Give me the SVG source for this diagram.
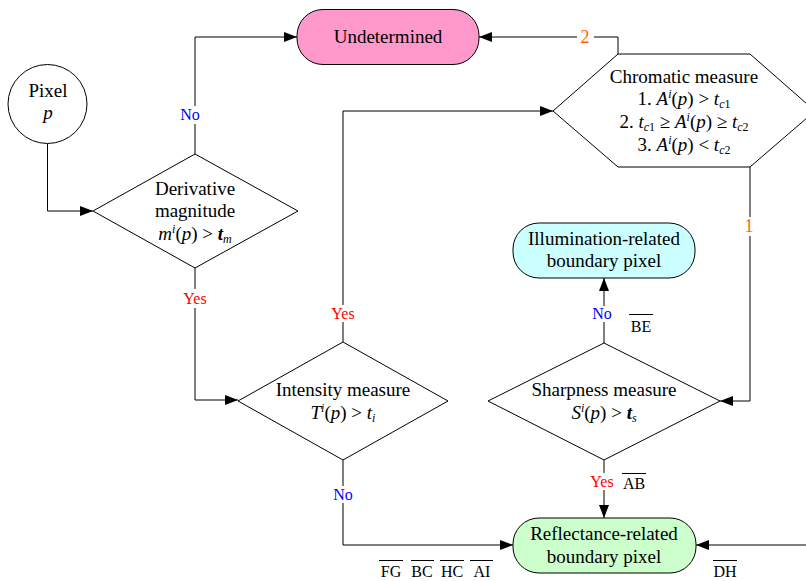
<svg xmlns="http://www.w3.org/2000/svg" width="806" height="581" viewBox="0 0 806 581">
<defs>
<marker id="arr" markerUnits="userSpaceOnUse" markerWidth="14" markerHeight="10" refX="13" refY="5" orient="auto">
<path d="M0,0 L13,5 L0,10 Z" fill="#000"/>
</marker>
<style>
text{font-family:"Liberation Serif","Times New Roman",serif;fill:#000}
.t{font-size:19px;text-anchor:middle}
.i{font-style:italic}
.s{font-size:12px}
.lbl{font-size:16px;text-anchor:middle}
.yes{fill:#FF0000}
.no{fill:#0000FF}
.num{font-size:18px;text-anchor:middle;fill:#FF6600}
.shape{stroke:#000;stroke-width:1}
.conn path{fill:none;stroke:#000;stroke-width:1}
.ol{stroke:#000;stroke-width:1}
</style>
</defs>
<rect width="806" height="581" fill="#fff"/>

<g class="conn" id="connectors">
<path d="M47.5,143.5 V211 H93" marker-end="url(#arr)"/>
<path d="M195,154 V124"/>
<path d="M195,106 V37 H297" marker-end="url(#arr)"/>
<path d="M195,268 V289"/>
<path d="M195,308 V400 H238" marker-end="url(#arr)"/>
<path d="M343,342 V322"/>
<path d="M343,305 V111 H553" marker-end="url(#arr)"/>
<path d="M343,460 V486"/>
<path d="M343,503 V545 H513" marker-end="url(#arr)"/>
<path d="M618,54 V37 H594"/>
<path d="M577,37 H479" marker-end="url(#arr)"/>
<path d="M750,167 V217"/>
<path d="M750,236 V401 H720" marker-end="url(#arr)"/>
<path d="M604,343 V322"/>
<path d="M604,306 V278" marker-end="url(#arr)"/>
<path d="M604,460 V473"/>
<path d="M604,490 V518" marker-end="url(#arr)"/>
<path d="M806,545 H696" marker-end="url(#arr)"/>
</g>

<g id="pixel">
<circle class="shape" cx="47.5" cy="104" r="39.5" fill="#fff"/>
<text class="t" x="48" y="97">Pixel</text>
<text class="t i" x="48" y="119">p</text>
</g>

<g id="undetermined">
<rect class="shape" x="297" y="9.5" width="182" height="55" rx="26" fill="#FF99CC"/>
<text class="t" x="388" y="43">Undetermined</text>
</g>

<g id="derivative">
<polygon class="shape" points="93,211 195,154 298,211 195,268" fill="#fff"/>
<text class="t" x="195" y="195">Derivative</text>
<text class="t" x="195" y="217">magnitude</text>
<text class="t" x="195" y="240"><tspan class="i">m</tspan><tspan class="s i" dy="-7">i</tspan><tspan dy="7">(</tspan><tspan class="i">p</tspan>) &gt; <tspan class="i" font-weight="bold">t</tspan><tspan class="s i" dy="3">m</tspan></text>
</g>

<g id="chromatic">
<polygon class="shape" points="553,111 618,54 750,54 815,111 750,167 618,167" fill="#fff"/>
<text class="t" x="684" y="83">Chromatic measure</text>
<text class="t" x="684" y="105">1. <tspan class="i">A</tspan><tspan class="s i" dy="-7">i</tspan><tspan dy="7">(</tspan><tspan class="i">p</tspan>) &gt; <tspan class="i">t</tspan><tspan class="s i" dy="3">c</tspan><tspan class="s">1</tspan></text>
<text class="t" x="684" y="128">2. <tspan class="i">t</tspan><tspan class="s i" dy="3">c</tspan><tspan class="s">1</tspan><tspan dy="-3"> ≥ </tspan><tspan class="i">A</tspan><tspan class="s i" dy="-7">i</tspan><tspan dy="7">(</tspan><tspan class="i">p</tspan>) ≥ <tspan class="i">t</tspan><tspan class="s i" dy="3">c</tspan><tspan class="s">2</tspan></text>
<text class="t" x="684" y="151">3. <tspan class="i">A</tspan><tspan class="s i" dy="-7">i</tspan><tspan dy="7">(</tspan><tspan class="i">p</tspan>) &lt; <tspan class="i">t</tspan><tspan class="s i" dy="3">c</tspan><tspan class="s">2</tspan></text>
</g>

<g id="illumination">
<rect class="shape" x="513" y="223" width="182" height="55" rx="26" fill="#CCFFFF"/>
<text class="t" x="604" y="245">Illumination-related</text>
<text class="t" x="604" y="267">boundary pixel</text>
</g>

<g id="intensity">
<polygon class="shape" points="238,401 343,342 448,401 343,460" fill="#fff"/>
<text class="t" x="343" y="396">Intensity measure</text>
<text class="t" x="343" y="419"><tspan class="i">T</tspan><tspan class="s i" dy="-7">i</tspan><tspan dy="7">(</tspan><tspan class="i">p</tspan>) &gt; <tspan class="i">t</tspan><tspan class="s i" dy="3">i</tspan></text>
</g>

<g id="sharpness">
<polygon class="shape" points="488,401 604,343 720,401 604,460" fill="#fff"/>
<text class="t" x="604" y="396">Sharpness measure</text>
<text class="t" x="604" y="419"><tspan class="i">S</tspan><tspan class="s i" dy="-7">i</tspan><tspan dy="7">(</tspan><tspan class="i">p</tspan>) &gt; <tspan class="i" font-weight="bold">t</tspan><tspan class="s i" dy="3">s</tspan></text>
</g>

<g id="reflectance">
<rect class="shape" x="513" y="518" width="183" height="55" rx="26" fill="#CCFFCC"/>
<text class="t" x="604" y="540">Reflectance-related</text>
<text class="t" x="604" y="563">boundary pixel</text>
</g>

<g id="labels">
<text class="lbl no" x="190" y="120">No</text>
<text class="lbl yes" x="195" y="304">Yes</text>
<text class="lbl yes" x="343" y="319">Yes</text>
<text class="lbl no" x="343" y="500">No</text>
<text class="lbl no" x="602" y="319">No</text>
<text class="lbl yes" x="602" y="487">Yes</text>
<text class="num" x="585" y="43">2</text>
<text class="num" x="749" y="232">1</text>
<text class="lbl" x="641" y="332">BE</text>
<line class="ol" x1="629" y1="314.5" x2="653" y2="314.5"/>
<text class="lbl" x="634" y="489">AB</text>
<line class="ol" x1="622" y1="473.5" x2="646" y2="473.5"/>
<text class="lbl" x="391" y="577">FG</text>
<line class="ol" x1="379" y1="560.5" x2="403" y2="560.5"/>
<text class="lbl" x="422" y="577">BC</text>
<line class="ol" x1="411" y1="560.5" x2="434" y2="560.5"/>
<text class="lbl" x="452" y="577">HC</text>
<line class="ol" x1="440" y1="560.5" x2="464" y2="560.5"/>
<text class="lbl" x="482" y="577">AI</text>
<line class="ol" x1="470" y1="560.5" x2="493" y2="560.5"/>
<text class="lbl" x="725" y="577">DH</text>
<line class="ol" x1="713" y1="560.5" x2="737" y2="560.5"/>
</g>
</svg>
